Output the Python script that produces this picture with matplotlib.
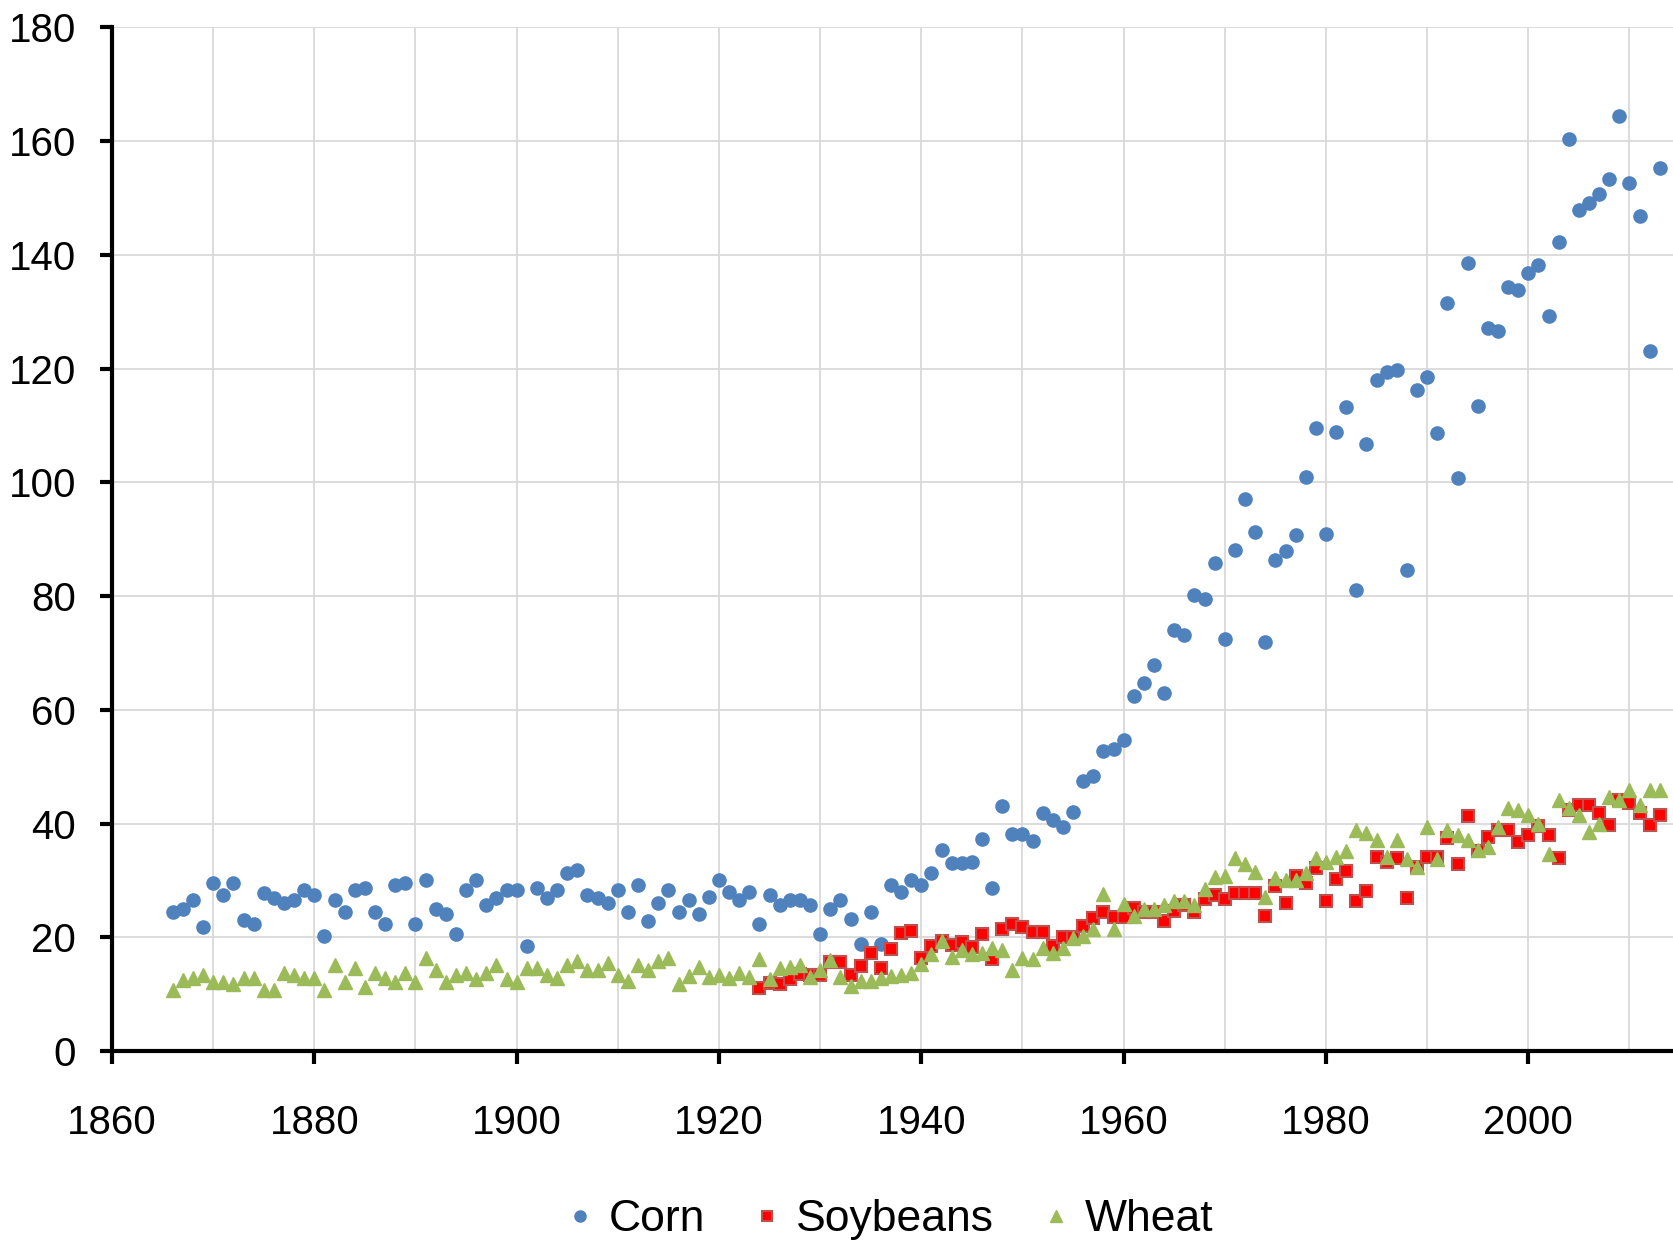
import matplotlib
matplotlib.use("Agg")
import matplotlib.pyplot as plt
from matplotlib.lines import Line2D

plt.rcParams["font.family"] = ["Liberation Sans Narrow", "Liberation Sans", "DejaVu Sans"]

# yields, bushels per acre
corn_years = list(range(1866, 2014))
corn = [
    24.4, 24.9, 26.6, 21.8, 29.5, 27.4, 29.5, 23.1, 22.3, 27.8,
    26.9, 26.1, 26.6, 28.3, 27.4, 20.2, 26.6, 24.4, 28.3, 28.7,
    24.4, 22.3, 29.1, 29.5, 22.3, 30.0, 24.9, 24.0, 20.6, 28.3,
    30.0, 25.6, 26.9, 28.3, 28.3, 18.4, 28.7, 26.9, 28.3, 31.3,
    31.8, 27.4, 26.9, 26.1, 28.3, 24.4, 29.1, 22.8, 26.1, 28.3,
    24.4, 26.6, 24.0, 27.0, 30.0, 27.9, 26.6, 27.9, 22.3, 27.4,
    25.7, 26.6, 26.6, 25.7, 20.6, 24.9, 26.6, 23.2, 18.9, 24.4,
    18.9, 29.1, 27.9, 30.0, 29.1, 31.3, 35.4, 33.1, 33.1, 33.3,
    37.2, 28.6, 43.0, 38.2, 38.2, 36.9, 41.8, 40.7, 39.4, 42.0,
    47.4, 48.3, 52.8, 53.1, 54.7, 62.4, 64.7, 67.9, 62.9, 74.1,
    73.1, 80.1, 79.5, 85.9, 72.4, 88.1, 97.0, 91.3, 71.9, 86.4,
    88.0, 90.8, 101.0, 109.5, 91.0, 108.9, 113.2, 81.1, 106.7, 118.0,
    119.4, 119.8, 84.6, 116.3, 118.5, 108.6, 131.5, 100.7, 138.6, 113.5,
    127.1, 126.7, 134.4, 133.8, 136.9, 138.2, 129.3, 142.2, 160.3, 147.9,
    149.1, 150.7, 153.3, 164.4, 152.6, 146.8, 123.1, 155.3,
]

soy_years = list(range(1924, 2014))
soybeans = [
    11.0, 12.0, 11.7, 12.6, 13.6, 13.4, 13.3, 15.6, 15.6, 13.3,
    15.0, 17.2, 14.6, 18.0, 20.8, 21.1, 16.4, 18.4, 19.3, 18.7,
    19.1, 18.2, 20.6, 16.1, 21.5, 22.3, 21.8, 21.0, 21.0, 18.4,
    20.1, 20.1, 21.9, 23.4, 24.4, 23.5, 23.5, 25.2, 24.4, 24.5,
    22.9, 24.7, 25.7, 24.5, 26.8, 27.4, 26.8, 27.7, 27.8, 27.8,
    23.8, 29.0, 26.1, 30.8, 29.5, 32.1, 26.4, 30.2, 31.6, 26.3,
    28.2, 34.1, 33.3, 34.0, 26.9, 32.4, 34.1, 34.1, 37.5, 32.8,
    41.3, 35.2, 37.7, 38.9, 38.8, 36.7, 38.0, 39.6, 38.0, 34.0,
    42.3, 43.2, 43.2, 41.9, 39.7, 44.2, 43.6, 41.9, 39.8, 41.5,
]

wheat_years = list(range(1866, 2014))
wheat = [
    10.8, 12.4, 12.9, 13.4, 12.1, 12.1, 11.7, 12.9, 12.9, 10.8,
    10.8, 13.7, 13.4, 12.9, 12.9, 10.8, 15.1, 12.1, 14.6, 11.3,
    13.7, 12.9, 12.1, 13.7, 12.1, 16.4, 14.2, 12.1, 13.3, 13.7,
    12.6, 13.7, 15.2, 12.6, 12.1, 14.6, 14.6, 13.4, 12.9, 15.2,
    15.8, 14.3, 14.3, 15.5, 13.4, 12.3, 15.2, 14.3, 15.8, 16.4,
    11.7, 13.1, 14.8, 13.0, 13.4, 12.9, 13.8, 13.0, 16.1, 12.6,
    14.6, 14.8, 15.2, 13.0, 14.3, 16.0, 13.0, 11.5, 12.3, 12.3,
    12.9, 13.1, 13.3, 13.7, 15.3, 17.0, 19.3, 16.5, 17.8, 17.0,
    17.2, 18.1, 17.8, 14.3, 16.4, 16.1, 18.1, 17.2, 18.1, 19.8,
    20.2, 21.5, 27.6, 21.5, 25.9, 23.7, 24.9, 25.0, 25.7, 26.3,
    26.3, 25.7, 28.4, 30.6, 30.8, 33.9, 32.8, 31.4, 27.1, 30.4,
    30.1, 30.1, 31.3, 33.9, 33.3, 34.1, 35.1, 38.8, 38.4, 37.1,
    34.1, 37.1, 33.7, 32.3, 39.3, 33.7, 38.8, 38.0, 37.1, 35.4,
    35.9, 39.3, 42.8, 42.3, 41.5, 39.9, 34.6, 44.1, 42.8, 41.5,
    38.5, 39.9, 44.6, 44.1, 45.9, 43.3, 45.9, 45.9,
]

x_ticks = list(range(1860, 2001, 20))
y_ticks = list(range(0, 181, 20))

fig = plt.figure(figsize=(16.74, 12.47), dpi=100)
ax = fig.add_axes([0.0669, 0.1572, 0.9331, 0.8208])

blue = "#4F81BD"
red = "#FF0000"
green = "#9BBB59"

ax.plot(corn_years, corn, "o", ms=9.5, color=blue, mec=blue, clip_on=False, zorder=3)
ax.plot(soy_years, soybeans, "s", ms=8.5, color=red, mec="#C0504D", mew=1.5, clip_on=False, zorder=3)
ax.plot(wheat_years, wheat, "^", ms=10.5, color=green, mec=green, clip_on=False, zorder=3)

ax.set_xlim(1860, 2014.4)
ax.set_ylim(0, 180)
ax.set_xticks(x_ticks)
ax.set_xticks(range(1870, 2011, 20), minor=True)
ax.set_yticks(y_ticks)

ax.grid(True, which="both", color="#D9D9D9", linewidth=1.3)
ax.set_axisbelow(True)

for s in ["top", "right"]:
    ax.spines[s].set_visible(False)
for s in ["left", "bottom"]:
    ax.spines[s].set_linewidth(3)
    ax.spines[s].set_color("black")

ax.tick_params(which="major", length=9, width=3, direction="out", labelsize=29, pad=17)
ax.tick_params(which="minor", length=0)
ax.tick_params(axis="x", pad=29)

handles = [
    Line2D([], [], ls="", marker="o", ms=8, color=blue),
    Line2D([], [], ls="", marker="s", ms=7, color=red, mec="#C0504D", mew=1.5),
    Line2D([], [], ls="", marker="^", ms=8, color=green),
]
fig.legend(handles, ["Corn", "Soybeans", "Wheat"], loc="center", bbox_to_anchor=(0.529, 0.022),
           ncol=3, frameon=False, fontsize=32, handletextpad=0.15, columnspacing=0.9, handlelength=1.0)

fig.savefig("out.png", dpi=100)
